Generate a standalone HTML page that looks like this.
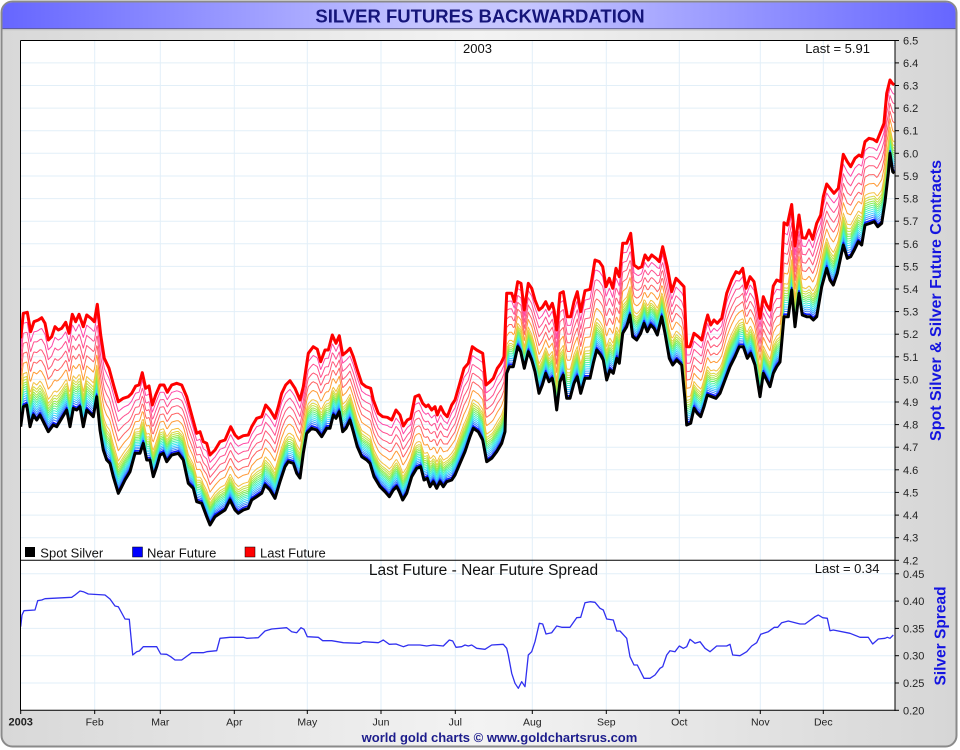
<!DOCTYPE html>
<html><head><meta charset="utf-8"><style>
html,body{margin:0;padding:0;background:#fff;}
svg{display:block;font-family:"Liberation Sans",Arial,sans-serif;}
</style></head><body>
<svg id="s" width="960" height="750" viewBox="0 0 960 750" xmlns="http://www.w3.org/2000/svg">
<defs>
<linearGradient id="bg" x1="0" x2="1" y1="0" y2="0">
<stop offset="0" stop-color="#d8d8d8"/><stop offset="0.5" stop-color="#f3f3f3"/><stop offset="1" stop-color="#d6d6d6"/>
</linearGradient>
<linearGradient id="tb" x1="0" x2="1" y1="0" y2="0">
<stop offset="0" stop-color="#6666ff"/><stop offset="0.45" stop-color="#c6c6ff"/><stop offset="0.55" stop-color="#c6c6ff"/><stop offset="1" stop-color="#6666ff"/>
</linearGradient>
<clipPath id="cm"><rect x="21" y="41" width="874" height="519"/></clipPath>
<clipPath id="cl"><rect x="21" y="561" width="874" height="149"/></clipPath>
</defs>
<rect x="1.5" y="1.5" width="955" height="745" rx="11" fill="url(#bg)" stroke="#8a8a8a" stroke-width="2"/>
<path d="M2.5,29 L2.5,13 Q2.5,2.5 13,2.5 L945,2.5 Q955.5,2.5 955.5,13 L955.5,29 Z" fill="url(#tb)"/>
<line x1="2.5" y1="28.8" x2="955.5" y2="28.8" stroke="#5a5a88" stroke-width="1"/>
<line x1="2.5" y1="30" x2="955.5" y2="30" stroke="#d0d0d0" stroke-width="1.5"/>
<text x="480" y="22.5" text-anchor="middle" font-size="18.5" font-weight="bold" fill="#15157a">SILVER FUTURES BACKWARDATION</text>

<rect x="20.5" y="40.5" width="874.5" height="669.8" fill="#fff"/>
<g stroke="#e2eff8" stroke-width="1">
<line x1="21" x2="895" y1="62.9" y2="62.9"/><line x1="21" x2="895" y1="85.5" y2="85.5"/><line x1="21" x2="895" y1="108.1" y2="108.1"/><line x1="21" x2="895" y1="130.7" y2="130.7"/><line x1="21" x2="895" y1="153.3" y2="153.3"/><line x1="21" x2="895" y1="176" y2="176"/><line x1="21" x2="895" y1="198.6" y2="198.6"/><line x1="21" x2="895" y1="221.2" y2="221.2"/><line x1="21" x2="895" y1="243.8" y2="243.8"/><line x1="21" x2="895" y1="266.4" y2="266.4"/><line x1="21" x2="895" y1="289" y2="289"/><line x1="21" x2="895" y1="311.6" y2="311.6"/><line x1="21" x2="895" y1="334.2" y2="334.2"/><line x1="21" x2="895" y1="356.8" y2="356.8"/><line x1="21" x2="895" y1="379.4" y2="379.4"/><line x1="21" x2="895" y1="402" y2="402"/><line x1="21" x2="895" y1="424.6" y2="424.6"/><line x1="21" x2="895" y1="447.2" y2="447.2"/><line x1="21" x2="895" y1="469.8" y2="469.8"/><line x1="21" x2="895" y1="492.4" y2="492.4"/><line x1="21" x2="895" y1="515.1" y2="515.1"/><line x1="21" x2="895" y1="537.7" y2="537.7"/>
<line x1="21" x2="895" y1="573.8" y2="573.8"/><line x1="21" x2="895" y1="601.1" y2="601.1"/><line x1="21" x2="895" y1="628.4" y2="628.4"/><line x1="21" x2="895" y1="655.7" y2="655.7"/><line x1="21" x2="895" y1="683" y2="683"/>
<line y1="41" y2="710" x1="94.7" x2="94.7"/><line y1="41" y2="710" x1="160.3" x2="160.3"/><line y1="41" y2="710" x1="234.3" x2="234.3"/><line y1="41" y2="710" x1="307.3" x2="307.3"/><line y1="41" y2="710" x1="381" x2="381"/><line y1="41" y2="710" x1="455.3" x2="455.3"/><line y1="41" y2="710" x1="532.3" x2="532.3"/><line y1="41" y2="710" x1="606.3" x2="606.3"/><line y1="41" y2="710" x1="679.3" x2="679.3"/><line y1="41" y2="710" x1="760.3" x2="760.3"/><line y1="41" y2="710" x1="823.3" x2="823.3"/>
</g>

<g id="rain" clip-path="url(#cm)" fill="none" stroke-width="1" stroke-linejoin="round"></g>
<g clip-path="url(#cm)" fill="none" stroke-linejoin="round">
<polyline id="near" transform="translate(0,-2.5)" stroke="#0a1aff" stroke-width="1.6" points=""/>
<polyline id="red" stroke="#ff0000" stroke-width="3" points=""/>
<polyline id="blk" stroke="#000" stroke-width="3" points=""/>
</g>

<g clip-path="url(#cl)">
<polyline fill="none" stroke="#3030f0" stroke-width="1.3" stroke-linejoin="round" points="20.7,626.7 22,615 24,610.7 35,610 37.7,600.7 41.7,600 45,598.7 71.7,597.3 75,595 80,591 83.3,591.7 88.3,594 105,595 110,599 115,606 118.3,606.7 125,619 129.3,619.3 132.7,655 136.7,651.7 139.3,651 143.3,646.7 156.7,646.7 160.7,654 166.7,654.3 170.7,656.7 175,660 181.7,660 191.7,652.7 203.3,652.7 206.7,651.7 216.7,650.7 220,638.3 230,637.3 243.3,637.3 246.7,638.3 258.3,637.7 265,631 271.7,629 286.7,627.7 291.7,631.7 296.7,632.7 301,627.7 304,629.3 307.3,636.7 318.3,637.3 322.7,640.7 331.7,640.7 343.3,642.7 360,643.3 363.3,641.7 378.3,642.7 383.3,640 389.3,644.3 396,644 403.3,646.7 408.3,645 420,645 426.7,646 433.3,645 443.3,646 449.3,640 452.7,641 456,647.3 461.7,646.7 465,645 468.3,646 471.7,645 476.7,648.3 485,649.3 491.7,645 503.3,644.3 506.7,648.3 508.3,655 511.7,673.3 515,683.3 518.3,688.3 521.7,681.7 525,686.7 528.3,655 531.7,651.7 535,641.7 539.3,623.3 542.7,624 546,634 551.7,632.7 556.7,626 561.7,627.3 570,627.3 576.7,617.7 580.7,617.3 585,602.7 590,601.7 595,602.3 600,608.3 603.3,610 606.7,619 613.3,620 616.7,631 620,631 626.7,638.3 630,656.7 634,665 637.3,665 644,678.3 650,678.3 655,675 660,668.3 662.7,666.7 666.7,655 670,650.7 675,651.7 679.3,646 683.3,648.3 686.7,646.7 690,639.3 695,643.3 700,641.7 705,648.3 710,651.7 716.7,646 726.7,646 730,644.3 732.7,655 740,655.7 746.7,651.7 751.7,646 756.7,642.7 760.7,634.3 768.3,631.7 774.3,627.3 777.7,627.3 781.7,622.7 788.3,621 800,624 805,624 815,616.7 818.3,615 822.7,617.7 827.3,618.3 830,630.7 833.3,630 850,633.3 860,637.3 868.3,637.3 872.7,644 878.3,639 885,638.3 887.3,637.3 890,638.3 893.3,635"/>
</g>

<!-- borders -->
<g stroke="#000" stroke-width="1" fill="none">
<line x1="20.5" y1="40.5" x2="895" y2="40.5"/>
<line x1="20.5" y1="40.5" x2="20.5" y2="710.5"/>
<line x1="20.5" y1="710.3" x2="895.5" y2="710.3"/>
<line x1="20.5" y1="560.3" x2="895.5" y2="560.3"/>
<line x1="895" y1="40" x2="895" y2="711"/>
</g>
<!-- right ticks -->
<g stroke="#000" stroke-width="1">
<line x1="895" x2="899" y1="40.5" y2="40.5"/><line x1="895" x2="899" y1="62.9" y2="62.9"/><line x1="895" x2="899" y1="85.5" y2="85.5"/><line x1="895" x2="899" y1="108.1" y2="108.1"/><line x1="895" x2="899" y1="130.7" y2="130.7"/><line x1="895" x2="899" y1="153.3" y2="153.3"/><line x1="895" x2="899" y1="176" y2="176"/><line x1="895" x2="899" y1="198.6" y2="198.6"/><line x1="895" x2="899" y1="221.2" y2="221.2"/><line x1="895" x2="899" y1="243.8" y2="243.8"/><line x1="895" x2="899" y1="266.4" y2="266.4"/><line x1="895" x2="899" y1="289" y2="289"/><line x1="895" x2="899" y1="311.6" y2="311.6"/><line x1="895" x2="899" y1="334.2" y2="334.2"/><line x1="895" x2="899" y1="356.8" y2="356.8"/><line x1="895" x2="899" y1="379.4" y2="379.4"/><line x1="895" x2="899" y1="402" y2="402"/><line x1="895" x2="899" y1="424.6" y2="424.6"/><line x1="895" x2="899" y1="447.2" y2="447.2"/><line x1="895" x2="899" y1="469.8" y2="469.8"/><line x1="895" x2="899" y1="492.4" y2="492.4"/><line x1="895" x2="899" y1="515.1" y2="515.1"/><line x1="895" x2="899" y1="537.7" y2="537.7"/><line x1="895" x2="899" y1="560.3" y2="560.3"/>
<line x1="895" x2="899" y1="573.8" y2="573.8"/><line x1="895" x2="899" y1="601.1" y2="601.1"/><line x1="895" x2="899" y1="628.4" y2="628.4"/><line x1="895" x2="899" y1="655.7" y2="655.7"/><line x1="895" x2="899" y1="683" y2="683"/><line x1="895" x2="899" y1="710.3" y2="710.3"/>
<line y1="710" y2="714" x1="20.7" x2="20.7"/><line y1="710" y2="714" x1="94.7" x2="94.7"/><line y1="710" y2="714" x1="160.3" x2="160.3"/><line y1="710" y2="714" x1="234.3" x2="234.3"/><line y1="710" y2="714" x1="307.3" x2="307.3"/><line y1="710" y2="714" x1="381" x2="381"/><line y1="710" y2="714" x1="455.3" x2="455.3"/><line y1="710" y2="714" x1="532.3" x2="532.3"/><line y1="710" y2="714" x1="606.3" x2="606.3"/><line y1="710" y2="714" x1="679.3" x2="679.3"/><line y1="710" y2="714" x1="760.3" x2="760.3"/><line y1="710" y2="714" x1="823.3" x2="823.3"/>
</g>
<g font-size="11" fill="#222">
<text x="903" y="44.5">6.5</text><text x="903" y="66.9">6.4</text><text x="903" y="89.5">6.3</text><text x="903" y="112.1">6.2</text><text x="903" y="134.7">6.1</text><text x="903" y="157.3">6.0</text><text x="903" y="180">5.9</text><text x="903" y="202.6">5.8</text><text x="903" y="225.2">5.7</text><text x="903" y="247.8">5.6</text><text x="903" y="270.4">5.5</text><text x="903" y="293">5.4</text><text x="903" y="315.6">5.3</text><text x="903" y="338.2">5.2</text><text x="903" y="360.8">5.1</text><text x="903" y="383.4">5.0</text><text x="903" y="406">4.9</text><text x="903" y="428.6">4.8</text><text x="903" y="451.2">4.7</text><text x="903" y="473.8">4.6</text><text x="903" y="496.4">4.5</text><text x="903" y="519.1">4.4</text><text x="903" y="541.7">4.3</text><text x="903" y="564.3">4.2</text>
<text x="903" y="577.8">0.45</text><text x="903" y="605.1">0.40</text><text x="903" y="632.4">0.35</text><text x="903" y="659.7">0.30</text><text x="903" y="687">0.25</text><text x="903" y="714.3">0.20</text>
</g>
<g font-size="10.5" fill="#222" text-anchor="middle">
<text x="20.7" y="725.5" font-weight="bold" font-size="11">2003</text>
<text x="94.7" y="725.5">Feb</text><text x="160.3" y="725.5">Mar</text><text x="234.3" y="725.5">Apr</text><text x="307.3" y="725.5">May</text><text x="381" y="725.5">Jun</text><text x="455.3" y="725.5">Jul</text><text x="532.3" y="725.5">Aug</text><text x="606.3" y="725.5">Sep</text><text x="679.3" y="725.5">Oct</text><text x="760.3" y="725.5">Nov</text><text x="823.3" y="725.5">Dec</text>
</g>
<text x="477.5" y="53" font-size="13" fill="#111" text-anchor="middle">2003</text>
<text x="870" y="53" font-size="13" fill="#111" text-anchor="end">Last = 5.91</text>
<text x="483.5" y="575" font-size="15.5" fill="#111" text-anchor="middle">Last Future - Near Future Spread</text>
<text x="879.5" y="573" font-size="13" fill="#111" text-anchor="end">Last = 0.34</text>
<g font-size="13" fill="#111">
<rect x="25" y="547" width="10" height="10" fill="#000"/><text x="40.3" y="557.3">Spot Silver</text>
<rect x="132.5" y="547" width="10" height="10" fill="#0000ff" stroke="#000" stroke-width="0.5"/><text x="147" y="557.3">Near Future</text>
<rect x="245" y="547" width="10" height="10" fill="#ff0000" stroke="#000" stroke-width="0.5"/><text x="260" y="557.3">Last Future</text>
</g>
<text transform="translate(941,300.5) rotate(-90)" text-anchor="middle" font-size="16" font-weight="bold" fill="#1414e0">Spot Silver &amp; Silver Future Contracts</text>
<text transform="translate(945.5,636) rotate(-90)" text-anchor="middle" font-size="15.5" font-weight="bold" fill="#1414e0">Silver Spread</text>
<text x="499.5" y="742" text-anchor="middle" font-size="13" font-weight="bold" fill="#1c1c8c">world gold charts © www.goldchartsrus.com</text>
</svg>
<script>
var B=[[20.7,426.7],[23.3,406.7],[26.7,405],[30,426.7],[33.3,415],[36.7,420],[40,415],[43.3,421.7],[48.3,431.7],[53.3,425],[56.7,426.7],[61.7,418.3],[66.7,410],[70,426.7],[73.3,408.3],[76.7,410],[80,406.7],[83.3,426.7],[86.7,410],[90,413.3],[93.3,416.7],[96.7,396.7],[100,430],[103.3,450],[106.7,460],[110,463.3],[113.3,476.7],[118.3,493.3],[121.7,486.7],[125,480],[130,471.7],[135,453.3],[140,453.3],[143.3,443.3],[146.7,460],[150,460],[153.3,476.7],[156.7,466.7],[160,455],[163.3,453.3],[166.7,461.7],[171.7,455],[178.3,453.3],[183.3,460],[188.3,483.3],[193.3,488.3],[196.7,501.7],[201.7,503.3],[206.7,516.7],[210,525],[215,516.7],[220,513.3],[225,510],[230,500],[235,510],[238.3,513.3],[243.3,510],[248.3,508.3],[251.7,500],[256.7,496.7],[261.7,493.3],[265,485],[270,490],[275,498.3],[280,481.7],[285,466.7],[288.3,461.7],[293.3,463.3],[296.7,473.3],[300,478],[303.3,453.3],[306.7,433.3],[311.7,428.3],[316.7,430],[321.7,436.7],[326.7,428.3],[330,428.3],[333.3,415],[336,418.3],[339.3,411.7],[342.7,431.7],[346,428.3],[350,420],[353.3,431.7],[357.3,446.7],[361.7,456.7],[366.7,460],[370,463.3],[374,476.7],[380,486.7],[385,491.7],[389.3,496.7],[393.3,490],[396.7,486.7],[399.3,491.7],[402.7,500],[406.7,493.3],[411.7,476.7],[416.7,468.3],[420.7,466.7],[424,480],[427.3,478.3],[430,486.7],[433.3,481.7],[436.7,488.3],[440,481.7],[443.3,486.7],[446.7,481.7],[451.7,480],[455,475],[460,463.3],[465,451.7],[470,436.7],[473.3,428.3],[478.3,431.7],[482.7,440],[486.7,461.7],[491.7,458.3],[496.7,451.7],[501.7,443.3],[505,431.7],[506.7,373.3],[509.3,366.7],[513.3,366.7],[517.7,346.7],[520.7,351.7],[524.3,368.3],[528.3,351.7],[531.7,360],[535,371.7],[539,393.3],[542.3,385],[545.7,373.3],[549,381.7],[552.3,378.3],[554,386.7],[556.7,410],[560,381.7],[563.3,375],[566.7,398.3],[570,398.3],[574,383.3],[577.3,376.7],[580.7,393.3],[585,378.3],[590,378.3],[593.3,363.3],[596.7,350],[600.7,355],[603.3,360],[606.7,380],[610,370],[613.3,373.3],[616.7,358.3],[619.3,363.3],[622.7,333.3],[626.7,326.7],[630,315],[632.7,336.7],[636.7,340],[640.7,333.3],[644,323.3],[647.3,331.7],[650.7,325],[654,328.3],[657.3,335],[661.7,316.7],[665,333.3],[669.3,358.3],[672.7,365],[676.7,360],[681.7,365],[685,400],[686.7,425],[690.7,423.3],[694,408.3],[697.3,413.3],[700.7,416.7],[704,406.7],[707.3,395],[711.7,396.7],[716,398.3],[720,393.3],[725,380],[730,366.7],[735,356.7],[739.3,346.7],[743.3,346.7],[747.3,358.3],[750.7,353.3],[755,365],[760,396.7],[763.3,373.3],[766.7,380],[770,386.7],[773.3,373.3],[776.7,366.7],[780,362],[784,316.7],[788.3,316.7],[791.7,290],[795,326.7],[799,293.3],[802.3,315],[806.7,316.7],[810,316.7],[813.3,320],[816.7,316.7],[821.7,286.7],[826.7,268.3],[830,280],[833.3,285],[837.3,273.3],[843.3,245],[847.3,258.3],[850.7,256.7],[854.3,250],[858.3,241.7],[861.7,245],[865,225],[870,223.3],[874.3,221.7],[877.7,226.7],[881.7,223.3],[885,201.7],[888.3,173.3],[890,153.3],[892.7,171.7],[894.3,173.3]];
var R=[[20.7,338.3],[23.3,313.3],[27.3,312.3],[30.7,331.7],[34,321.7],[38.3,320],[41.7,317.7],[45,323.3],[48.3,340],[51.7,336.7],[55,326.7],[58.3,330],[61.7,328.3],[65.7,322.3],[69,333.3],[72.3,314.3],[75.7,321.7],[79,314.3],[83.3,326.7],[86.7,315],[91,318.3],[94.3,321.7],[97.3,304.3],[100.7,335],[104.3,358.3],[109,368.3],[114,386.7],[118.3,401.7],[123.3,398.3],[128.3,396.7],[131.7,393.3],[135.7,386],[139,385],[142.3,372.7],[145.7,388.3],[149,386],[152.3,405],[155.7,395],[160,385],[164,385],[167.3,392.3],[171.7,385],[176.7,383.3],[181.7,385],[186.7,396.7],[191.7,415],[196.7,433.3],[200,431.7],[203.3,441.7],[206.7,443.3],[210,455],[215,450],[220,441.7],[225,440],[230.7,426.7],[235,435],[238.3,438.3],[243.3,435.7],[248.3,435],[251.7,426.7],[256.7,418.3],[261.7,416.7],[265.7,405],[270,410],[275,418.3],[278.3,406.7],[281.7,393.3],[285.7,385],[290,380.7],[295,388.3],[300,400],[303.3,386.7],[308.3,353.3],[313.3,346.7],[317.3,349.3],[320.7,361.7],[325,350],[328.3,350],[332.3,335],[336,343.3],[339.3,335.7],[342.7,355],[346.7,351.7],[350,348.3],[353.3,356.7],[357.3,370],[361.7,383.3],[366,386.7],[370.7,388.3],[373.3,400],[378.3,413.3],[382.7,416.7],[387.3,417.3],[391.7,420],[396,410],[400,415],[403.3,426],[407.3,420],[410.7,418.3],[415,396.7],[419,395],[422.7,403.3],[426,406.7],[428.3,405],[431.7,410],[435,406.7],[437.3,415],[440.7,406.7],[444,413.3],[447.3,416.7],[451.7,405],[455,400],[459.3,385],[464,368.3],[468.3,363.3],[472.3,346.7],[476.7,350],[482.7,353.3],[486,385],[490,381.7],[493.3,378.3],[497.3,368.3],[501,363.3],[504,356.7],[506.7,293.3],[511.7,293.3],[514.3,301.7],[517.7,281.7],[521,283.3],[524.3,310],[528.3,283.3],[531.7,288.3],[535,300],[539,310],[542.3,307.3],[545.7,301.7],[549,309.3],[552.3,303.3],[554,310],[556.7,330],[560,293.3],[563.3,291.7],[567.3,316.7],[570.7,316.7],[574,301.7],[577.3,291.7],[580.7,311.7],[585,290.7],[590,289.3],[591.7,280],[595,260],[599.3,261.7],[602.7,266.7],[606,286.7],[609.3,278.3],[612.7,288.3],[616,268.3],[619.3,276.7],[622.7,243.3],[626.7,243.3],[630.7,233.3],[634,265],[638.3,268.3],[641.7,266.7],[645,255],[648.3,260],[651.7,255],[656,258.3],[659.3,261.7],[662.7,246.7],[667.3,266.7],[671.7,291.7],[676,278.3],[679.3,281.7],[684,286.7],[686.7,346.7],[690,346.7],[694,333.3],[698.3,336.7],[701.7,340],[705,325],[707.7,315],[710.7,325],[714,320],[717.3,323.3],[721.7,318.3],[726.7,293.3],[731.7,280],[736,271.7],[739.3,273.3],[742.7,268.3],[746,288.3],[750,276.7],[754,281.7],[756.7,296.7],[760,318.3],[763.3,296.7],[766.7,305],[770,310],[773.3,286],[776.7,280],[780.7,281.7],[784,222.7],[787.3,225],[791.7,204.5],[795,246],[799,215],[802.3,237.7],[805.7,238.3],[809,230],[812.7,239.3],[816.7,223.3],[820.7,215],[823.3,196.7],[826.7,184],[830,188.3],[834,193.3],[838.3,188.3],[843.3,154.3],[847.3,161.7],[850.7,166.7],[855,158.3],[859,155],[861.7,156.7],[865,141.7],[869,138.3],[873.3,139.3],[876.7,141.7],[880.7,131.7],[884,123.3],[886.7,93.3],[890,80],[892.3,83.3],[894.3,85]];
function pts(P){return P.map(function(p){return p[0]+","+p[1];}).join(" ");}
document.getElementById("blk").setAttribute("points",pts(B));
document.getElementById("near").setAttribute("points",pts(B));
document.getElementById("red").setAttribute("points",pts(R));
function lerp(P,x){if(x<=P[0][0])return P[0][1];for(var i=1;i<P.length;i++){if(x<=P[i][0]){var a=P[i-1],b=P[i];return a[1]+(b[1]-a[1])*(x-a[0])/(b[0]-a[0]);}}return P[P.length-1][1];}
var xs={};B.forEach(function(p){xs[p[0]]=1;});R.forEach(function(p){xs[p[0]]=1;});
for(var x=20.7;x<=894.3;x+=1.5)xs[x.toFixed(1)]=1;
var X=Object.keys(xs).map(Number).sort(function(a,b){return a-b;});
var L=[[0.03,"#3a78ff"],[0.055,"#3aa4ff"],[0.08,"#38c8ff"],[0.105,"#38e2f0"],[0.13,"#40f0d0"],[0.155,"#50f0a8"],[0.18,"#62f07a"],[0.205,"#80ee58"],[0.23,"#a0e848"],[0.26,"#c2e244"],[0.29,"#dcd844"],[0.335,"#f4c040"],[0.45,"#ff9a35"],[0.56,"#ff6262"],[0.67,"#ff5878"],[0.78,"#ff5090"],[0.89,"#ff48a8"]];
var g=document.getElementById("rain"),ns="http://www.w3.org/2000/svg";
L.forEach(function(l){var s=[];X.forEach(function(x){var nb=lerp(B,x)-2.5,r=lerp(R,x);s.push(x.toFixed(1)+","+(nb+l[0]*(r-nb)).toFixed(1));});
var e=document.createElementNS(ns,"polyline");e.setAttribute("points",s.join(" "));e.setAttribute("stroke",l[1]);g.appendChild(e);});
</script>
</body></html>
